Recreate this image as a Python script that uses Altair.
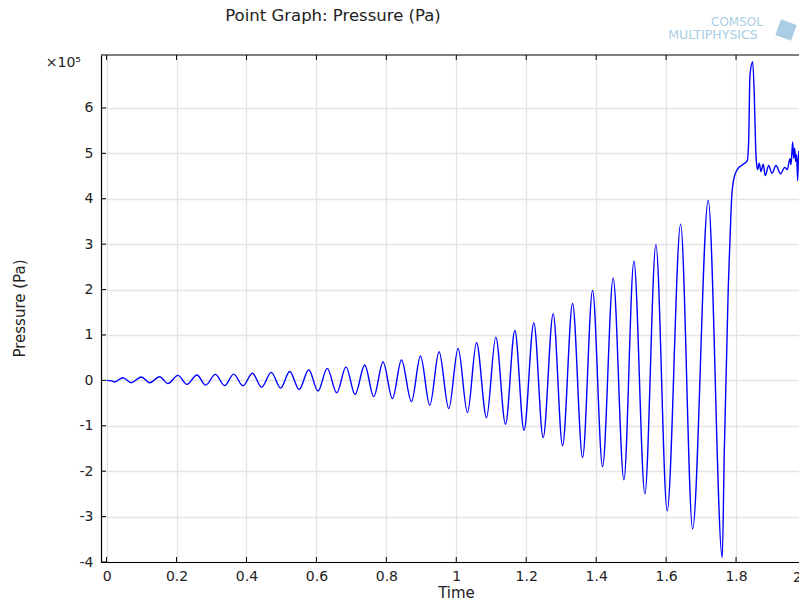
import altair as alt
import pandas as pd

# ---- data (time in s, pressure in 1e5 Pa) ----
time_s = [
    0.0, 0.0143, 0.0229, 0.0466, 0.0707, 0.0993, 0.1230, 0.1516, 0.1754, 0.2040,
    0.2298, 0.2584, 0.2833, 0.3110, 0.3376, 0.3634, 0.3900, 0.4169, 0.4435, 0.4707,
    0.4979, 0.5236, 0.5508, 0.5780, 0.6046, 0.6309, 0.6581, 0.6847, 0.7104, 0.7382,
    0.7639, 0.7906, 0.8174, 0.8432, 0.8718, 0.8976, 0.9242, 0.9508, 0.9785, 1.0052,
    1.0320, 1.0578, 1.0864, 1.1130, 1.1408, 1.1674, 1.1937, 1.2217, 1.2484, 1.2770,
    1.3039, 1.3325, 1.3611, 1.3897, 1.4183, 1.4486, 1.4793, 1.5079, 1.5393, 1.5708,
    1.6031, 1.6415, 1.6758, 1.7204, 1.7605, 1.7662, 1.7731, 1.7777, 1.7825, 1.7874,
    1.7940, 1.8034, 1.8188, 1.8320, 1.8360, 1.8398, 1.8475, 1.8521, 1.8561, 1.8590,
    1.8618, 1.8664, 1.8712, 1.8778, 1.8835, 1.8933, 1.9027, 1.9142, 1.9275, 1.9390,
    1.9465, 1.9542, 1.9571, 1.9619, 1.9648, 1.9676, 1.9705, 1.9733, 1.9762, 1.9790,
    1.9819, 1.9848, 1.9886, 1.9923, 1.9963, 1.9991,
]
pressure_e5 = [
    0.0, -0.01, -0.035, 0.059, -0.051, 0.075, -0.051, 0.081, -0.07, 0.11,
    -0.088, 0.117, -0.105, 0.132, -0.115, 0.137, -0.12, 0.158, -0.15, 0.175,
    -0.172, 0.194, -0.2, 0.235, -0.235, 0.264, -0.275, 0.297, -0.312, 0.337,
    -0.359, 0.403, -0.403, 0.447, -0.469, 0.535, -0.55, 0.63, -0.623, 0.703,
    -0.71, 0.828, -0.82, 0.952, -0.967, 1.099, -1.10, 1.267, -1.26, 1.465,
    -1.44, 1.692, -1.70, 1.978, -1.90, 2.256, -2.19, 2.622, -2.50, 2.989,
    -2.87, 3.44, -3.27, 3.96, -3.90, -1.63, 0.57, 2.04, 3.06, 4.01,
    4.45, 4.64, 4.75, 4.84, 5.26, 6.72, 7.02, 6.29, 5.11, 4.75,
    4.64, 4.78, 4.60, 4.76, 4.51, 4.73, 4.56, 4.73, 4.55, 4.69,
    4.64, 4.88, 4.75, 5.25, 4.89, 5.11, 4.82, 4.97, 4.40, 5.05,
    4.82, 5.15, 4.90, 5.20, 4.95, 5.10,
]
x_ticks = [0, 0.2, 0.4, 0.6, 0.8, 1, 1.2, 1.4, 1.6, 1.8, 2]
y_ticks = [-4, -3, -2, -1, 0, 1, 2, 3, 4, 5, 6]
title_text = ["Point Graph: Pressure (Pa)"]
x_title = "Time"
y_title = "Pressure (Pa)"
exponent_text = ["×10⁵"]
logo_top = ["COMSOL"]
logo_bottom = ["MULTIPHYSICS"]

# ---- layout ----
W, H = 698, 507
x_dom = [-0.016, 1.98]
y_dom = [-4, 7.165]
FONT = "DejaVu Sans"
TXT = "#222222"

df = pd.DataFrame({"t": time_s, "p": pressure_e5})
xs = alt.Scale(domain=x_dom, nice=False, zero=False)
ys = alt.Scale(domain=y_dom, nice=False, zero=False)

common_axis = dict(
    grid=True, gridColor="#e4e4e4", gridWidth=1.3,
    ticks=False, tickSize=0,
    domainColor="black", domainWidth=1.2,
    labelFont=FONT, labelFontSize=14, labelColor=TXT,
    titleFont=FONT, titleFontSize=15, titleColor=TXT, titleFontWeight="normal",
    labelExpr="'' + datum.value",
)
x_axis = alt.Axis(
    values=x_ticks, title=x_title, labelPadding=7,
    titleX=355, titleY=35, titleAngle=0, titleAlign="center",
    titleBaseline="alphabetic", **common_axis)
y_axis = alt.Axis(
    values=y_ticks, title=y_title, labelPadding=8,
    titleX=-77, titleY=253, titleAngle=-90, titleAlign="center",
    titleBaseline="alphabetic", **common_axis)

line = alt.Chart(df).mark_line(
    color="#0000ff", strokeWidth=1.4, interpolate="monotone"
).encode(
    x=alt.X("t:Q", scale=xs, axis=x_axis),
    y=alt.Y("p:Q", scale=ys, axis=y_axis),
)

xt = pd.DataFrame({"t": x_ticks})
yt = pd.DataFrame({"p": y_ticks})

bottom_ticks = alt.Chart(xt).mark_rule(color="black", strokeWidth=1).encode(
    x=alt.X("t:Q", scale=xs, axis=x_axis), y=alt.value(H), y2=alt.value(H - 5))
top_ticks = alt.Chart(xt).mark_rule(color="black", strokeWidth=1).encode(
    x=alt.X("t:Q", scale=xs, axis=x_axis), y=alt.value(0), y2=alt.value(5))
left_ticks = alt.Chart(yt).mark_rule(color="black", strokeWidth=1).encode(
    y=alt.Y("p:Q", scale=ys, axis=y_axis), x=alt.value(0), x2=alt.value(5))
frame_top = alt.Chart(pd.DataFrame({"a": [0]})).mark_rule(
    color="black", strokeWidth=1.2).encode(x=alt.value(0), x2=alt.value(W), y=alt.value(0))

# last x label sits on the window edge, partly cut off as in the reference
edge_label = alt.Chart(pd.DataFrame({"label": [str(x_ticks[-1])]})).mark_text(
    font=FONT, fontSize=14, align="right", baseline="alphabetic", color=TXT
).encode(x=alt.value(W + 3), y=alt.value(H + 20), text="label:N")

title = alt.Chart(pd.DataFrame({"label": title_text})).mark_text(
    font=FONT, fontSize=16.5, align="center", baseline="alphabetic", color=TXT
).encode(x=alt.value(232), y=alt.value(-34), text="label:N")

exponent = alt.Chart(pd.DataFrame({"label": exponent_text})).mark_text(
    font=FONT, fontSize=14, align="right", baseline="alphabetic", color=TXT
).encode(x=alt.value(-20), y=alt.value(12), text="label:N")

logo1 = alt.Chart(pd.DataFrame({"label": logo_top})).mark_text(
    font=FONT, fontSize=12, align="center", baseline="alphabetic", color="#a9cde3"
).encode(x=alt.value(636), y=alt.value(-29.5), text="label:N")
logo2 = alt.Chart(pd.DataFrame({"label": logo_bottom})).mark_text(
    font=FONT, fontSize=12.5, align="center", baseline="alphabetic", color="#a9cde3"
).encode(x=alt.value(612), y=alt.value(-16), text="label:N")
cube = alt.Chart(pd.DataFrame({"a": [0]})).mark_point(
    shape="square", filled=True, color="#9cc6e0", size=280, angle=20, opacity=0.85
).encode(x=alt.value(685), y=alt.value(-25))

chart = alt.layer(
    line, bottom_ticks, top_ticks, left_ticks, frame_top, edge_label,
    title, exponent, logo1, logo2, cube,
).properties(
    width=W, height=H,
    autosize=alt.AutoSizeParams(type="none"),
    padding={"left": 93, "top": 47, "right": 0, "bottom": 36},
    background="white",
).configure_view(stroke=None)

chart.save("out.html", embed_options={"renderer": "svg", "actions": False})
